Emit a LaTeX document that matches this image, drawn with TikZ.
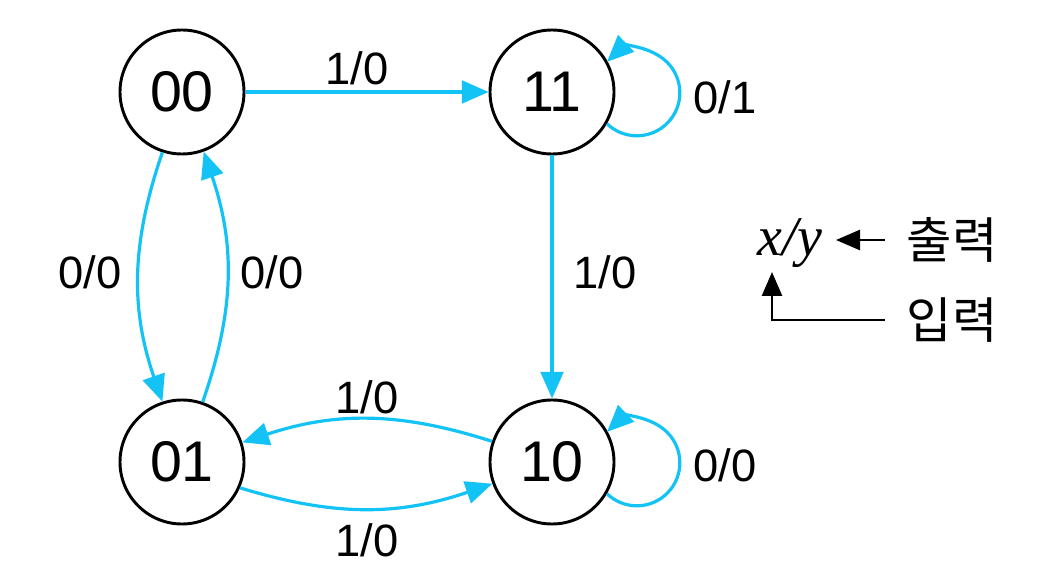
\documentclass[tikz,border=0pt]{standalone}
\usepackage{fontspec}
\setmainfont{Liberation Sans}
\newfontfamily\krfont{Noto Sans CJK KR}
\newfontfamily\serifit{Liberation Serif}
\usetikzlibrary{arrows.meta}
\definecolor{edgecyan}{RGB}{20,195,245}
\begin{document}
\begin{tikzpicture}[x=0.75pt,y=0.75pt,
  state/.style={circle,draw=black,line width=2.2pt,minimum size=124*0.75pt,inner sep=0pt,font=\fontsize{43}{48}\selectfont},
  trans/.style={draw=edgecyan,line width=2.4pt,-{Triangle[length=20pt,width=17pt]}},
  lbl/.style={font=\fontsize{34}{38}\selectfont,inner sep=0pt},
  legarrow/.style={draw=black,line width=2pt,-{Triangle[length=18pt,width=15pt]}},
  kr/.style={font=\krfont\fontsize{37}{40}\selectfont,inner sep=0pt}]
\useasboundingbox (0,0) rectangle (1056,586);
\node[state] (n00) at (182,494) {00};
\node[state] (n11) at (552,494) {11};
\node[state] (n01) at (182,124) {01};
\node[state] (n10) at (552,124) {10};
% transitions
\draw[trans] (n00.east) -- (n11.west);
\draw[trans] (n11.south) -- (n10.north);
\draw[trans] (n00.-108) to[bend right=19] (n01.108);
\draw[trans] (n01.71) to[bend right=19] (n00.-70);
\draw[trans] (n10.161) to[bend right=18] (n01.18);
\draw[trans] (n01.-24) to[bend right=18] (n10.-160);
\draw[trans] (n11.-30) arc[start angle=-134,end angle=134,radius=43];
\draw[trans] (n10.-30) arc[start angle=-134,end angle=134,radius=43];
% labels
\node[lbl] (l1) at (357,518) {1/0};
\node[lbl] (l2) at (605,314) {1/0};
\node[lbl] (l3) at (90,314) {0/0};
\node[lbl] (l4) at (272,314) {0/0};
\node[lbl] (l5) at (367,189) {1/0};
\node[lbl] (l6) at (367,46) {1/0};
\node[lbl] (l7) at (725,489) {0/1};
\node[lbl] (l8) at (725,121) {0/0};
% legend
\node[inner sep=0pt,font=\serifit\itshape\fontsize{42}{44}\selectfont] (xy) at (790,343) {x/y};
\node[kr] (out) at (952,346) {출력};
\node[kr] (in) at (952,266) {입력};
\coordinate (c1) at (885,346);
\coordinate (c2) at (836,346);
\coordinate (c3) at (885,266);
\coordinate (c4) at (772,266);
\coordinate (c5) at (772,314);
\draw[legarrow] (c1) -- (c2);
\draw[legarrow] (c3) -- (c4) -- (c5);
\end{tikzpicture}
\end{document}
